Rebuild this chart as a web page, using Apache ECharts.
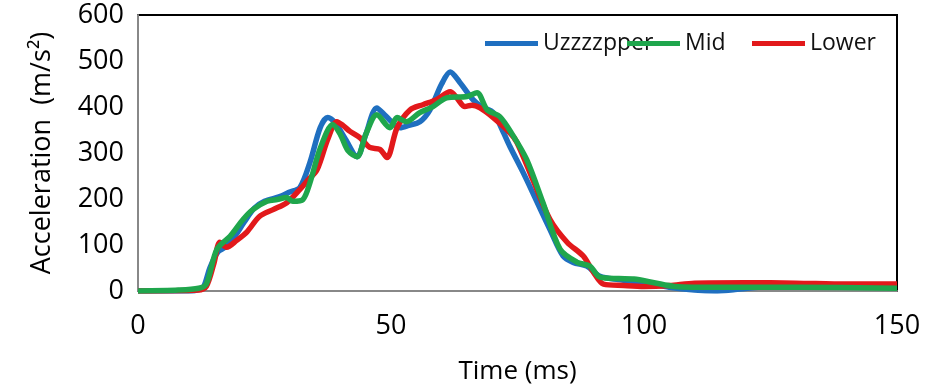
<!DOCTYPE html>
<html>
<head>
<meta charset="utf-8">
<script src="https://cdn.jsdelivr.net/npm/echarts@6/dist/echarts.min.js"></script>
<style>
  html, body { margin: 0; padding: 0; background: #fff; }
  #chart { width: 946px; height: 390px; }
</style>
</head>
<body>
<div id="chart"></div>
<script>
// time (ms) / acceleration (m/s2)
const upperT = [0, 10, 12, 13, 14.2, 15.8, 17.2, 19.2, 21, 23, 25, 28, 30, 32, 34, 36, 37.5, 39, 41, 43.3, 45, 47.2, 49, 51.8, 53.5, 55.7, 57.7, 60, 61.7, 63.5, 66.2, 68, 70.2, 72, 73.5, 76, 78, 81.4, 84, 86, 88.7, 91.3, 95, 100, 105, 110, 114, 118, 125, 135, 150];
const upperV = [0, 0, 3, 10, 50, 85, 95, 120, 150, 180, 195, 205, 215, 225, 280, 355, 377, 365, 330, 292, 340, 398, 380, 355, 360, 368, 394, 450, 476, 455, 416, 400, 388, 350, 314, 260, 214, 134, 76, 62, 54, 32, 25, 18, 8, 2, 0, 3, 10, 10, 8];

const midT = [0, 8, 12, 13.5, 15.6, 18.2, 20.8, 22.7, 25.5, 27.5, 29.4, 30.6, 32.6, 34, 36, 38.5, 40, 41.5, 43.3, 45, 47.2, 49.8, 51.2, 53, 55.7, 58.3, 61, 65, 67, 69, 71.5, 74, 76.8, 80, 83.4, 86.7, 89.3, 91.3, 95, 98, 102, 106, 115, 130, 150];
const midV = [0, 2, 6, 15, 91, 119, 156, 177, 195, 199, 203, 195, 199, 236, 310, 362, 340, 305, 292, 340, 383, 355, 377, 368, 388, 401, 420, 423, 431, 394, 379, 340, 286, 193, 91, 63, 54, 30, 27, 26, 18, 10, 8, 8, 6];

const lowerT = [0, 12, 13.5, 15, 16.2, 17.5, 19.5, 21.5, 24, 26.7, 29.4, 32, 33.5, 35.4, 37.5, 39.3, 40.5, 41.9, 43.9, 45.8, 47.8, 49.2, 51.2, 53.8, 56.3, 59, 61.7, 63, 64.6, 66, 67.6, 70.2, 73.5, 74.9, 78, 81.4, 84.8, 88, 90, 92, 96, 100, 105, 110, 120, 130, 140, 150];
const lowerV = [0, 2, 10, 60, 106, 95, 110, 128, 162, 177, 192, 221, 240, 264, 330, 368, 360, 347, 333, 312, 308, 290, 355, 394, 405, 416, 433, 420, 401, 404, 398, 377, 344, 323, 243, 156, 106, 76, 41, 15, 12, 10, 12, 17, 18, 17, 15, 15];

const xTicks = [0, 50, 100, 150];
const yTicks = [0, 100, 200, 300, 400, 500, 600];

const FONT = "Open Sans";
const pairs = (t, v) => t.map((x, i) => [x, v[i]]);

const chart = echarts.init(document.getElementById("chart"), null, { renderer: "canvas" });

function legendAt(name, left) {
  return {
    data: [name],
    left: left,
    top: 27,
    icon: "rect",
    itemWidth: 53,
    itemHeight: 5,
    textStyle: { fontFamily: FONT, fontSize: 23, color: "#111" },
  };
}

function line(name, data, color) {
  return {
    name: name,
    type: "line",
    data: data,
    smooth: 0.3,
    showSymbol: false,
    lineStyle: { width: 5.5, color: color },
    itemStyle: { color: color },
  };
}

chart.setOption({
  animation: false,
  backgroundColor: "#fff",
  grid: {
    left: 138,
    right: 49,
    top: 15,
    bottom: 98,
    show: true,
    borderColor: "#000",
    borderWidth: 2,
  },
  legend: [
    legendAt("Uzzzzpper", 480),
    legendAt("Mid", 622),
    legendAt("Lower", 747),
  ],
  xAxis: {
    type: "value",
    min: xTicks[0],
    max: xTicks[xTicks.length - 1],
    interval: 50,
    name: "Time (ms)",
    nameLocation: "middle",
    nameGap: 68,
    nameTextStyle: { fontFamily: FONT, fontSize: 26, color: "#000" },
    axisLine: { lineStyle: { color: "#888", width: 2 } },
    axisTick: { show: false },
    splitLine: { show: false },
    axisLabel: { fontFamily: FONT, fontSize: 27, color: "#000", margin: 22 },
  },
  yAxis: {
    type: "value",
    min: yTicks[0],
    max: yTicks[yTicks.length - 1],
    interval: 100,
    name: "Acceleration  (m/s²)",
    nameLocation: "middle",
    nameGap: 82,
    nameTextStyle: { fontFamily: FONT, fontSize: 27, color: "#000" },
    axisLine: { show: true, lineStyle: { color: "#888", width: 2 } },
    axisTick: { show: false },
    splitLine: { show: false },
    axisLabel: { fontFamily: FONT, fontSize: 27, color: "#000", margin: 14 },
  },
  series: [
    line("Uzzzzpper", pairs(upperT, upperV), "#1f6fc0"),
    line("Lower", pairs(lowerT, lowerV), "#e2191b"),
    line("Mid", pairs(midT, midV), "#1fa64c"),
  ],
});
</script>
</body>
</html>
